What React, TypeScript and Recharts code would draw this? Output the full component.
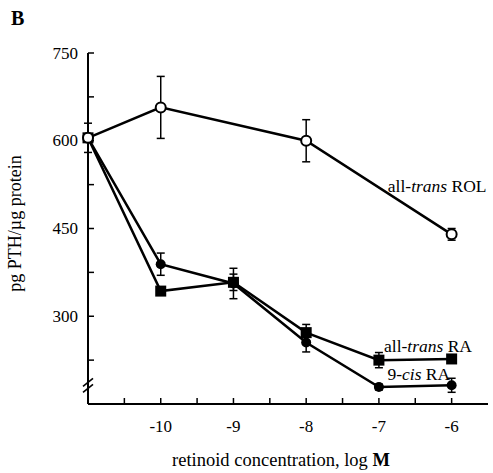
import React from 'react';
import { LineChart, Line, XAxis, YAxis, ErrorBar, ReferenceDot } from 'recharts';

// control point sits on the y axis (x = -11)
const rolX = [-11, -10, -8, -6];
const rolY = [605, 657, 600, 440];
const rolErr = [25, 53, 36, 10];

const raX = [-11, -10, -9, -8, -7, -6];
const raY = [605, 343, 358, 272, 225, 227];
const raErr = [0, 0, 14, 14, 13, 0];

const cisX = [-11, -10, -9, -8, -7, -6];
const cisY = [605, 389, 356, 255, 179, 182];
const cisErr = [0, 19, 26, 16, 5, 12];

const yTicks = [225, 300, 375, 450, 525, 600, 675, 750];
const yLabeled = [300, 450, 600, 750];
const xTicks = [-10.5, -10, -9.5, -9, -8.5, -8, -7.5, -7, -6.5, -6];
const xLabeled = [-10, -9, -8, -7, -6];

const rolData = rolX.map((x, i) => ({ x, y: rolY[i], err: rolErr[i] }));
const raData = raX.map((x, i) => ({ x, y: raY[i], err: raErr[i] }));
const cisData = cisX.map((x, i) => ({ x, y: cisY[i], err: cisErr[i] }));

const FONT = '"Liberation Serif", "DejaVu Serif", serif';

const OpenCircle = (props: any) => {
  const { cx, cy } = props;
  return <circle cx={cx} cy={cy} r={5} fill="#fff" stroke="#000" strokeWidth={2} />;
};
const FilledCircle = (props: any) => {
  const { cx, cy } = props;
  return <circle cx={cx} cy={cy} r={5} fill="#000" stroke="none" />;
};
const FilledSquare = (props: any) => {
  const { cx, cy } = props;
  return <rect x={cx - 5.5} y={cy - 5.5} width={11} height={11} fill="#000" />;
};

const YTick = (props: any) => {
  const { x, y, payload } = props;
  if (!yLabeled.includes(payload.value)) return <g />;
  return (
    <text x={x} y={y} textAnchor="end" dominantBaseline="central" fontSize={17} fontFamily={FONT} fill="#000">
      {payload.value}
    </text>
  );
};
const XTick = (props: any) => {
  const { x, y, payload } = props;
  if (!xLabeled.includes(payload.value)) return <g />;
  return (
    <text x={x} y={y} dy="0.71em" textAnchor="middle" fontSize={17} fontFamily={FONT} fill="#000">
      {payload.value}
    </text>
  );
};

const AxisBreak = (props: any) => {
  const { cx, cy } = props;
  return (
    <g stroke="#000" strokeWidth={1.6}>
      <line x1={cx - 5} y1={cy + 1} x2={cx + 5} y2={cy - 7} />
      <line x1={cx - 5} y1={cy + 7} x2={cx + 5} y2={cy - 1} />
    </g>
  );
};

const SeriesLabel = (pre: string, it: string, post: string) => (props: any) => {
  const { cx, cy } = props;
  return (
    <text x={cx} y={cy} textAnchor="end" dominantBaseline="central" fontSize={17.5} fontFamily={FONT} fill="#000">
      {pre}
      <tspan fontStyle="italic">{it}</tspan>
      {post}
    </text>
  );
};

export default function App() {
  return (
    <div style={{ position: 'absolute', left: 0, top: 0, width: 493, height: 473, background: '#fff' }}>
      <div style={{ position: 'absolute', left: 11, top: 7, fontFamily: FONT, fontWeight: 'bold', fontSize: 20 }}>B</div>
      <LineChart width={493} height={473} margin={{ top: 53, right: 5, bottom: 39, left: 8 }}>
        <XAxis
          xAxisId="b"
          type="number"
          dataKey="x"
          domain={[-11, -5.5]}
          ticks={xTicks}
          interval={0}
          height={30}
          axisLine={{ stroke: '#000', strokeWidth: 2 }}
          tickLine={{ stroke: '#000', strokeWidth: 1.5 }}
          tickSize={-6}
          tickMargin={22}
          tick={<XTick />}
          label={{
            content: (p: any) => {
              const vb = p.viewBox;
              return (
                <text x={vb.x + vb.width / 2 - 7} y={vb.y + 62} textAnchor="middle" fontSize={18.5} fontFamily={FONT} fill="#000">
                  retinoid concentration, log <tspan fontWeight="bold">M</tspan>
                </text>
              );
            },
          }}
        />
        <XAxis
          xAxisId="t"
          orientation="top"
          type="number"
          dataKey="x"
          domain={[-11, -5.5]}
          ticks={xTicks}
          interval={0}
          height={0}
          axisLine={{ stroke: '#000', strokeWidth: 2 }}
          tickLine={{ stroke: '#000', strokeWidth: 1.5 }}
          tickSize={-6}
          tick={false}
        />
        <YAxis
          yAxisId="l"
          type="number"
          domain={[150, 750]}
          ticks={yTicks}
          interval={0}
          width={80}
          axisLine={{ stroke: '#000', strokeWidth: 2 }}
          tickLine={{ stroke: '#000', strokeWidth: 1.5 }}
          tickSize={-6}
          tickMargin={16}
          tick={<YTick />}
          label={{
            content: (p: any) => {
              const vb = p.viewBox;
              const cx = vb.x + 7;
              const cy = vb.y + vb.height / 2 - 5;
              return (
                <text x={cx} y={cy} transform={`rotate(-90 ${cx} ${cy})`} textAnchor="middle" dominantBaseline="central" fontSize={18} fontFamily={FONT} fill="#000">
                  pg PTH/µg protein
                </text>
              );
            },
          }}
        />
        <YAxis
          yAxisId="r"
          orientation="right"
          type="number"
          domain={[150, 750]}
          ticks={yTicks}
          interval={0}
          width={0}
          axisLine={{ stroke: '#000', strokeWidth: 2 }}
          tickLine={{ stroke: '#000', strokeWidth: 1.5 }}
          tickSize={-6}
          tick={false}
        />

        <Line
          xAxisId="b"
          yAxisId="l"
          data={raData}
          dataKey="y"
          stroke="#000"
          strokeWidth={2.5}
          dot={<FilledSquare />}
          activeDot={false}
          isAnimationActive={false}
        >
          <ErrorBar dataKey="err" direction="y" width={4} stroke="#000" strokeWidth={1.5} />
        </Line>
        <Line
          xAxisId="b"
          yAxisId="l"
          data={cisData}
          dataKey="y"
          stroke="#000"
          strokeWidth={2.5}
          dot={<FilledCircle />}
          activeDot={false}
          isAnimationActive={false}
        >
          <ErrorBar dataKey="err" direction="y" width={4} stroke="#000" strokeWidth={1.5} />
        </Line>
        <Line
          xAxisId="b"
          yAxisId="l"
          data={rolData}
          dataKey="y"
          stroke="#000"
          strokeWidth={2.5}
          dot={<OpenCircle />}
          activeDot={false}
          isAnimationActive={false}
        >
          <ErrorBar dataKey="err" direction="y" width={4} stroke="#000" strokeWidth={1.5} />
        </Line>

        <ReferenceDot xAxisId="b" yAxisId="l" x={-11} y={182} r={0} shape={<AxisBreak />} />
        <ReferenceDot xAxisId="b" yAxisId="l" x={-5.52} y={523} r={0} shape={SeriesLabel('all-', 'trans', ' ROL')} />
        <ReferenceDot xAxisId="b" yAxisId="l" x={-5.72} y={249} r={0} shape={SeriesLabel('all-', 'trans', ' RA')} />
        <ReferenceDot xAxisId="b" yAxisId="l" x={-6.02} y={202} r={0} shape={SeriesLabel('9-', 'cis', ' RA')} />
      </LineChart>
    </div>
  );
}
